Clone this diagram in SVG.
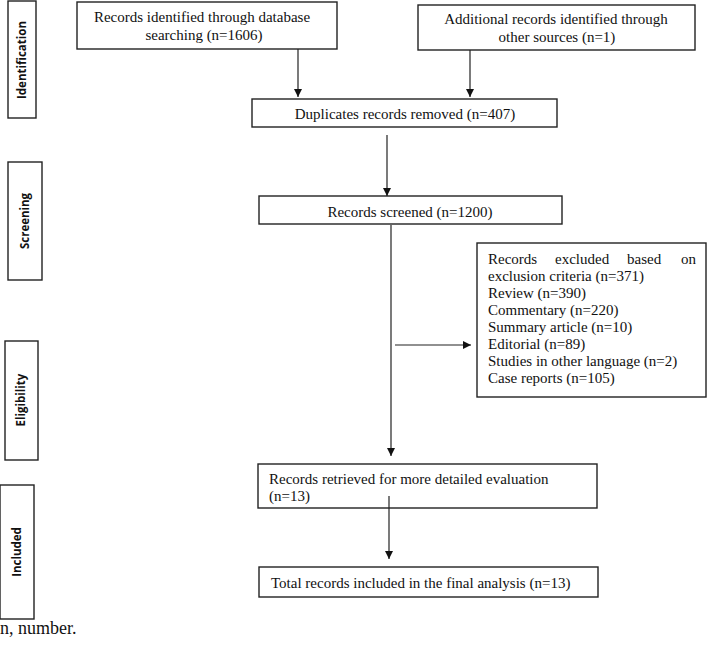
<svg xmlns="http://www.w3.org/2000/svg" width="709" height="648" viewBox="0 0 709 648">
<style>
.box{fill:#fff;stroke:#222;stroke-width:1.4}
.t{font-family:"Liberation Serif","Times New Roman",serif;font-size:15px;fill:#111}
.c{text-anchor:middle}
.lab{font-family:"Open Sans","Liberation Sans",sans-serif;font-weight:bold;font-size:11.5px;fill:#111;text-anchor:middle}
.ln{stroke:#222;stroke-width:1.2;fill:none}
</style>
<defs>
<marker id="ah" markerWidth="8" markerHeight="8" refX="8" refY="4" orient="auto" markerUnits="userSpaceOnUse">
<path d="M0,0 L8,4 L0,8 Z" fill="#111"/>
</marker>
</defs>
<g id="phase-identification">
<rect class="box" x="8" y="1" width="28" height="117"/>
<text class="lab" transform="translate(26,60) rotate(-90)">Identification</text>
</g>
<g id="phase-screening">
<rect class="box" x="8" y="162" width="34" height="118"/>
<text class="lab" transform="translate(29,221) rotate(-90)">Screening</text>
</g>
<g id="phase-eligibility">
<rect class="box" x="5" y="341" width="33" height="119"/>
<text class="lab" transform="translate(25,400) rotate(-90)">Eligibility</text>
</g>
<g id="phase-included">
<rect class="box" x="0" y="485" width="34" height="134"/>
<text class="lab" transform="translate(21,552) rotate(-90)">Included</text>
</g>
<g id="db-search">
<rect class="box" x="77" y="2" width="260" height="47"/>
<text class="t c" x="202" y="22">Records identified through database</text>
<text class="t c" x="204" y="40">searching (n=1606)</text>
</g>
<g id="other-sources">
<rect class="box" x="418" y="5" width="277" height="45"/>
<text class="t c" x="556" y="24">Additional records identified through</text>
<text class="t c" x="557" y="42">other sources (n=1)</text>
</g>
<g id="duplicates">
<rect class="box" x="252" y="99" width="305" height="28"/>
<text class="t c" x="405" y="119">Duplicates records removed (n=407)</text>
</g>
<g id="screened">
<rect class="box" x="259" y="196" width="303" height="28"/>
<text class="t c" x="410" y="217">Records screened (n=1200)</text>
</g>
<g id="excluded">
<rect class="box" x="477" y="243" width="229" height="154"/>
<text class="t" y="264"><tspan x="488">Records</tspan><tspan x="555">excluded</tspan><tspan x="627">based</tspan><tspan x="681">on</tspan></text>
<text class="t" x="488" y="281">exclusion criteria (n=371)</text>
<text class="t" x="488" y="298">Review (n=390)</text>
<text class="t" x="488" y="315">Commentary (n=220)</text>
<text class="t" x="488" y="332">Summary article (n=10)</text>
<text class="t" x="488" y="349">Editorial (n=89)</text>
<text class="t" x="488" y="366">Studies in other language (n=2)</text>
<text class="t" x="488" y="383">Case reports (n=105)</text>
</g>
<g id="retrieved">
<rect class="box" x="258" y="464" width="339" height="44"/>
<text class="t" x="269" y="484">Records retrieved for more detailed evaluation</text>
<text class="t" x="269" y="501">(n=13)</text>
</g>
<g id="final">
<rect class="box" x="259" y="567" width="339" height="30"/>
<text class="t" x="271" y="588">Total records included in the final analysis (n=13)</text>
</g>
<g id="connectors">
<line class="ln" x1="298" y1="49" x2="298" y2="97" marker-end="url(#ah)"/>
<line class="ln" x1="470" y1="50" x2="470" y2="97" marker-end="url(#ah)"/>
<line class="ln" x1="387" y1="135" x2="387" y2="196" marker-end="url(#ah)"/>
<line class="ln" x1="391" y1="225" x2="391" y2="456" marker-end="url(#ah)"/>
<line class="ln" x1="395" y1="345" x2="471" y2="345" marker-end="url(#ah)"/>
<line class="ln" x1="389" y1="496" x2="389" y2="559" marker-end="url(#ah)"/>
</g>
<text class="t" x="0" y="634" style="font-size:18px">n, number.</text>
</svg>
